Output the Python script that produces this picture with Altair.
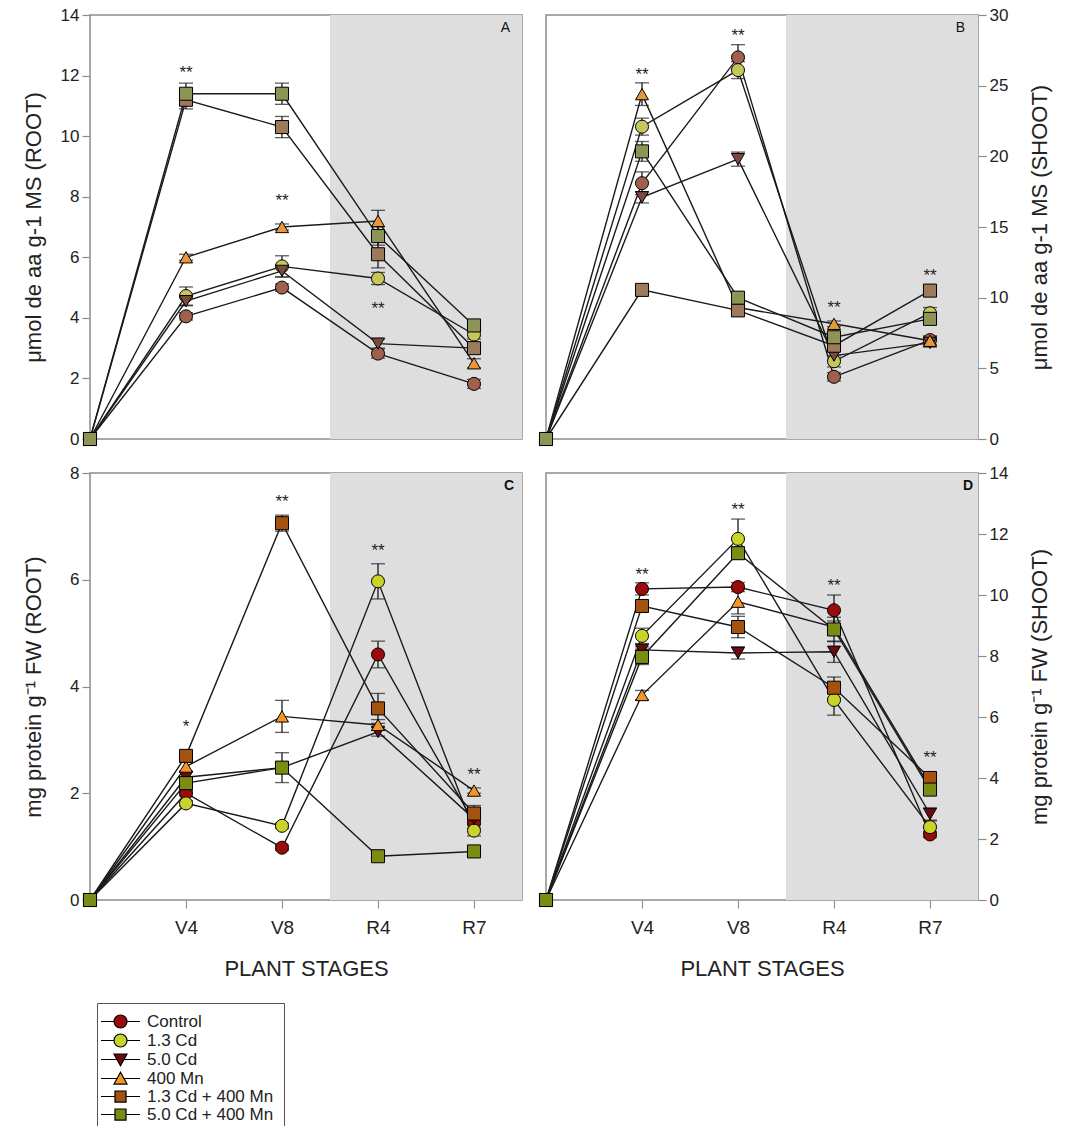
import json
import altair as alt
import pandas as pd

FONT = "Liberation Sans"

# ---------------- data ----------------
SERIES = ["Control", "1.3 Cd", "5.0 Cd", "400 Mn", "1.3 Cd + 400 Mn", "5.0 Cd + 400 Mn"]
SHAPES = ["circle", "circle", "triangle-down", "triangle-up", "square", "square"]
STAGE_POS = [0, 1, 2, 3, 4]
STAGE_LABELS = ["", "V4", "V8", "R4", "R7"]
REPRO_SPAN = [2.5, 4.5]          # shaded band (reproductive stages)
X_DOMAIN = [0, 4.5]

COLORS_TOP = ["#a0604e", "#c6c65c", "#7b4a3c", "#e8983a", "#9c7a5a", "#8e9455"]
COLORS_BOTTOM = ["#9b0b0b", "#c9d42a", "#6a0c0c", "#f4952a", "#a3520f", "#7c8b14"]

# Panel A : umol aa g-1 MS (ROOT)
A_VALUES = [
    [0, 4.05, 5.00, 2.82, 1.82],
    [0, 4.72, 5.70, 5.30, 3.45],
    [0, 4.55, 5.55, 3.15, 3.00],
    [0, 6.00, 7.00, 7.20, 2.50],
    [0, 11.20, 10.30, 6.10, 3.00],
    [0, 11.40, 11.40, 6.70, 3.75],
]
A_ERRORS = [
    [0, 0.12, 0.12, 0.15, 0.15],
    [0, 0.30, 0.35, 0.20, 0.15],
    [0, 0.15, 0.20, 0.15, 0.10],
    [0, 0.10, 0.10, 0.35, 0.15],
    [0, 0.30, 0.35, 0.45, 0.15],
    [0, 0.35, 0.35, 0.30, 0.15],
]
A_STAR_POS = [1, 2, 3]
A_STAR_Y = [12.1, 7.85, 4.3]
A_STAR_TXT = ["**", "**", "**"]

# Panel B : umol aa g-1 MS (SHOOT)
B_VALUES = [
    [0, 18.1, 27.0, 4.4, 7.0],
    [0, 22.1, 26.1, 5.5, 8.9],
    [0, 17.1, 19.8, 5.9, 6.8],
    [0, 24.4, 9.3, 8.15, 6.95],
    [0, 10.55, 9.1, 6.6, 10.5],
    [0, 20.35, 10.0, 7.2, 8.5],
]
B_ERRORS = [
    [0, 0.8, 0.9, 0.3, 0.3],
    [0, 0.6, 0.6, 0.4, 0.4],
    [0, 0.4, 0.5, 0.3, 0.3],
    [0, 0.8, 0.4, 0.2, 0.3],
    [0, 0.3, 0.4, 0.3, 0.3],
    [0, 0.7, 0.4, 0.4, 0.4],
]
B_STAR_POS = [1, 2, 3, 4]
B_STAR_Y = [25.75, 28.5, 9.3, 11.55]
B_STAR_TXT = ["**", "**", "**", "**"]

# Panel C : mg protein g-1 FW (ROOT)
C_VALUES = [
    [0, 2.00, 0.98, 4.60, 1.45],
    [0, 1.81, 1.39, 5.97, 1.30],
    [0, 2.30, 2.48, 3.15, 1.52],
    [0, 2.50, 3.44, 3.28, 2.05],
    [0, 2.70, 7.06, 3.59, 1.62],
    [0, 2.19, 2.48, 0.82, 0.91],
]
C_ERRORS = [
    [0, 0.05, 0.05, 0.25, 0.10],
    [0, 0.05, 0.05, 0.33, 0.10],
    [0, 0.10, 0.10, 0.08, 0.10],
    [0, 0.08, 0.30, 0.10, 0.05],
    [0, 0.08, 0.15, 0.28, 0.15],
    [0, 0.10, 0.28, 0.03, 0.05],
]
C_STAR_POS = [1, 2, 3, 4]
C_STAR_Y = [3.25, 7.45, 6.53, 2.34]
C_STAR_TXT = ["*", "**", "**", "**"]

# Panel D : mg protein g-1 FW (SHOOT)
D_VALUES = [
    [0, 10.20, 10.26, 9.50, 2.15],
    [0, 8.66, 11.84, 6.56, 2.39],
    [0, 8.20, 8.10, 8.14, 2.82],
    [0, 6.72, 9.78, 8.95, 3.70],
    [0, 9.64, 8.95, 6.96, 4.00],
    [0, 7.97, 11.37, 8.87, 3.62],
]
D_ERRORS = [
    [0, 0.20, 0.15, 0.50, 0.10],
    [0, 0.25, 0.65, 0.50, 0.20],
    [0, 0.10, 0.20, 0.35, 0.20],
    [0, 0.15, 0.40, 0.20, 0.15],
    [0, 0.15, 0.35, 0.35, 0.15],
    [0, 0.25, 0.20, 0.40, 0.15],
]
D_STAR_POS = [1, 2, 3, 4]
D_STAR_Y = [10.66, 12.8, 10.28, 4.65]
D_STAR_TXT = ["**", "**", "**", "**"]

# legend symbols: marker with a short line through it
LEGEND_SHAPES = [
    "M-3,0H-1M1,0H3M1,0A1,1,0,1,1,-1,0A1,1,0,1,1,1,0Z",
    "M-3,0H-1M1,0H3M1,0A1,1,0,1,1,-1,0A1,1,0,1,1,1,0Z",
    "M-3,0H-0.55M0.55,0H3M-1,-0.85L1,-0.85L0,0.95Z",
    "M-3,0H-0.55M0.55,0H3M-1,0.85L1,0.85L0,-0.95Z",
    "M-3,0H-0.85M0.85,0H3M-0.85,-0.85H0.85V0.85H-0.85Z",
    "M-3,0H-0.85M0.85,0H3M-0.85,-0.85H0.85V0.85H-0.85Z",
]

W = 432
H_TOP = 424
H_BOT = 427
LABEL_EXPR = json.dumps(STAGE_LABELS) + "[datum.value]"

LEGEND = alt.Legend(
    title=None, orient="none", legendX=7, legendY=530,
    direction="vertical", symbolSize=169,
    symbolStrokeColor="black", symbolStrokeWidth=1.2,
    symbolOffset=5, labelOffset=18,
    labelFont=FONT, labelFontSize=17, labelColor="#222222",
    rowPadding=0, padding=10, strokeColor="#555555",
    fillColor="white", cornerRadius=0)


def panel(values, errors, star_pos, star_y, star_txt, colors, ymax, ystep,
          ytitle, yorient, letter, letter_bold, letter_dx, height, show_x,
          with_legend=False):
    rows = []
    for s, vals, errs in zip(SERIES, values, errors):
        for p, v, e in zip(STAGE_POS, vals, errs):
            rows.append({"series": s, "pos": p, "value": v, "err": e})
    df = pd.DataFrame(rows)

    xscale = alt.Scale(domain=X_DOMAIN, nice=False, zero=False)
    if show_x:
        xaxis = alt.Axis(values=STAGE_POS[1:], labelExpr=LABEL_EXPR,
                         labelFontSize=19, labelPadding=10, tickSize=8,
                         titleFontSize=22, titlePadding=21)

        def X(field):
            return alt.X(f"{field}:Q", scale=xscale, axis=xaxis, title="PLANT STAGES")
    else:
        def X(field):
            return alt.X(f"{field}:Q", scale=xscale, axis=None)

    if yorient == "left":
        yaxis = alt.Axis(orient="left", values=list(range(0, ymax + 1, ystep)),
                         minExtent=43, maxExtent=43, titlePadding=2)
    else:
        yaxis = alt.Axis(orient="right", values=list(range(0, ymax + 1, ystep)),
                         minExtent=47, maxExtent=47, titlePadding=4,
                         titleAngle=270, titleBaseline="top")
    yscale = alt.Scale(domain=[0, ymax], nice=False, zero=True)

    def Y(field):
        return alt.Y(f"{field}:Q", scale=yscale, axis=yaxis, title=ytitle)

    fill_scale = alt.Scale(domain=SERIES, range=colors)
    fill_legend = LEGEND if with_legend else None

    shade = alt.Chart(pd.DataFrame({"start": [REPRO_SPAN[0]], "end": [REPRO_SPAN[1]]})).mark_rect(
        color="#dedede").encode(x=X("start"), x2=alt.X2("end"), y=alt.value(0), y2=alt.value(height))

    lines = alt.Chart(df).mark_line(color="#1a1a1a", strokeWidth=1.4).encode(
        x=X("pos"), y=Y("value"), detail="series:N")

    errs = alt.Chart(df).transform_filter("datum.pos > 0").mark_errorbar(
        ticks=True, size=14, thickness=1.3, color="#1a1a1a").encode(
        x=X("pos"), y=Y("value"), yError="err:Q")

    layers = [shade, lines, errs]

    # one point layer per marker shape (in series order)
    seen = []
    for sh in SHAPES:
        if sh in seen:
            continue
        seen.append(sh)
        members = [s for s, t in zip(SERIES, SHAPES) if t == sh]
        layers.append(
            alt.Chart(df).transform_filter(alt.FieldOneOfPredicate(field="series", oneOf=members))
            .mark_point(shape=sh, filled=True, size=170, stroke="black", strokeWidth=1, opacity=1)
            .encode(x=X("pos"), y=Y("value"),
                    fill=alt.Fill("series:N", scale=fill_scale, legend=fill_legend)))

    stars = alt.Chart(pd.DataFrame({"pos": star_pos, "y": star_y, "t": star_txt})).mark_text(
        fontSize=17, font=FONT, color="#222222", baseline="middle").encode(
        x=X("pos"), y=Y("y"), text="t:N")

    letter_chart = alt.Chart(pd.DataFrame({"t": [letter]})).mark_text(
        align="right", baseline="middle", fontSize=14, font=FONT, color="#111111",
        fontWeight="bold" if letter_bold else "normal").encode(
        x=alt.value(W - letter_dx), y=alt.value(13), text="t:N")

    layers += [stars, letter_chart]

    if with_legend:
        leg = alt.Chart(pd.DataFrame({"series": SERIES})).transform_filter("false").mark_point(
            filled=True, stroke="black", strokeWidth=1.2, opacity=1).encode(
            shape=alt.Shape("series:N", scale=alt.Scale(domain=SERIES, range=LEGEND_SHAPES),
                            legend=LEGEND),
            fill=alt.Fill("series:N", scale=fill_scale, legend=LEGEND))
        layers.append(leg)

    return alt.layer(*layers).properties(width=W, height=height)


pA = panel(A_VALUES, A_ERRORS, A_STAR_POS, A_STAR_Y, A_STAR_TXT, COLORS_TOP, 14, 2,
           "\u03bcmol de aa g-1 MS (ROOT)", "left", "A", False, 12, H_TOP, False)
pB = panel(B_VALUES, B_ERRORS, B_STAR_POS, B_STAR_Y, B_STAR_TXT, COLORS_TOP, 30, 5,
           "\u03bcmol de aa g-1 MS (SHOOT)", "right", "B", False, 13, H_TOP, False)
pC = panel(C_VALUES, C_ERRORS, C_STAR_POS, C_STAR_Y, C_STAR_TXT, COLORS_BOTTOM, 8, 2,
           "mg protein g\u207b\u00b9 FW (ROOT)", "left", "C", True, 8, H_BOT, True, with_legend=True)
pD = panel(D_VALUES, D_ERRORS, D_STAR_POS, D_STAR_Y, D_STAR_TXT, COLORS_BOTTOM, 14, 2,
           "mg protein g\u207b\u00b9 FW (SHOOT)", "right", "D", True, 5, H_BOT, True)

chart = alt.concat(pA, pB, pC, pD, columns=2, spacing={"row": 14, "column": 13}).resolve_scale(
    fill="independent", shape="independent"
).properties(
    padding={"left": 21, "top": 5, "right": 5, "bottom": 5}
).configure_view(
    stroke="#8c8c8c", strokeWidth=1.5
).configure_axis(
    grid=False, domain=False, tickColor="#8c8c8c", tickWidth=1.2, tickSize=8,
    labelFont=FONT, labelFontSize=17, labelColor="#222222", labelPadding=3,
    titleFont=FONT, titleFontSize=22, titleFontWeight="normal", titleColor="#222222"
)

chart.save("out.html", embed_options={"renderer": "svg", "actions": False})
